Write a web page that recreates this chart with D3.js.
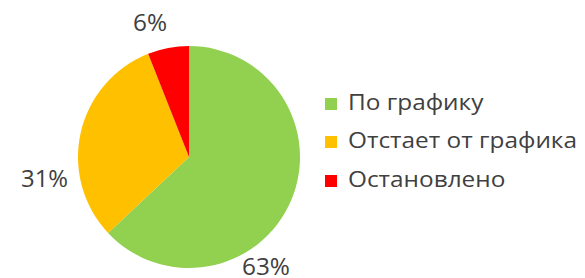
<!DOCTYPE html>
<html><head><meta charset="utf-8">
<script src="https://cdn.jsdelivr.net/npm/d3@7"></script>
<style>body{margin:0;background:#fff}svg{display:block}text{font-family:"Open Sans","Noto Sans",sans-serif;fill:#404040}</style>
</head><body>
<script>
const categories = ["По графику", "Отстает от графика", "Остановлено"];
const values = [63, 31, 6];
const labels = ["63%", "31%", "6%"];
const colors = ["#92D050", "#FFC000", "#FF0000"];

const W = 585, H = 278;
const svg = d3.select("body").append("svg").attr("width", W).attr("height", H);
const cx = 189, cy = 157, r = 111;
const pie = d3.pie().sort(null).value(d => d)(values);
const arc = d3.arc().innerRadius(0).outerRadius(r);
const g = svg.append("g").attr("transform", `translate(${cx},${cy})`);
g.selectAll("path").data(pie).join("path").attr("d", arc).attr("fill", (d, i) => colors[i]);

// label placement: [centerX, baseline, width]
const labelPos = [[266, 275, 48], [44.5, 187, 47], [150, 31, 34]];
svg.selectAll("text.lbl").data(labels).join("text").attr("class", "lbl")
  .attr("x", (d, i) => labelPos[i][0]).attr("y", (d, i) => labelPos[i][1])
  .attr("text-anchor", "middle")
  .attr("font-size", 23).text(d => d)
  .attr("textLength", (d, i) => labelPos[i][2]).attr("lengthAdjust", "spacingAndGlyphs");

const lg = svg.append("g");
const baseY = [110, 148, 187];
categories.forEach((c, i) => {
  lg.append("rect").attr("x", 325).attr("y", baseY[i] - 12).attr("width", 12).attr("height", 12).attr("fill", colors[i]);
  lg.append("text").attr("x", 348).attr("y", baseY[i]).attr("font-size", 21).text(c);
});
// fit widths: "Отстает от графика" spans ~229px in reference
const t2 = lg.selectAll("text").nodes()[1];
const w = t2.getComputedTextLength();
const scale = 229 / w;
lg.selectAll("text").attr("textLength", function(){ return this.getComputedTextLength() * scale; }).attr("lengthAdjust", "spacingAndGlyphs");
</script>
</body></html>
